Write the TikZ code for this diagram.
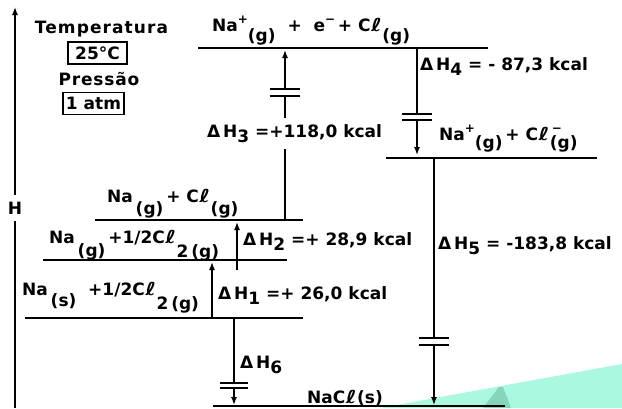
\documentclass[tikz,border=0pt]{standalone}
\usepackage{fontspec}
\setmainfont{DejaVu Sans}
\usetikzlibrary{arrows.meta}
\newcommand{\sbx}[2][0.55em]{\raisebox{-#1}{#2}}
\newcommand{\sdx}[1]{\raisebox{-0.35em}{#1}}
\newcommand{\spx}[1]{\raisebox{0.42em}{\fontsize{12}{12}\selectfont #1}}
\newcommand{\dH}[1]{Δ\,H\sdx{#1}}
\newcommand{\lell}{\kern0.5pt\scalebox{1.35}[1.05]{\itshape ℓ}\kern0.5pt}
\begin{document}
\begin{tikzpicture}[x=1pt,y=-1pt,
  lvl/.style={line width=1.6pt},
  ln/.style={line width=1.4pt},
  arr/.style={line width=1.4pt,-{Latex[length=8pt,width=6pt]}},
  brk/.style={line width=1.3pt},
  lbl/.style={font=\fontsize{17}{20}\selectfont\bfseries, inner sep=0pt},
  boxed/.style={lbl, draw, line width=1.2pt, minimum height=22pt}
]
\useasboundingbox (0,0) rectangle (622,408);
\fill[white] (0,0) rectangle (622,408);

% H axis
\coordinate (hb) at (15,408);
\coordinate (ht) at (15,7);
\draw[arr] (hb) -- (ht);
\node[lbl, fill=white, inner ysep=7pt, inner xsep=1pt] (hl) at (15,208) {H};

% conditions
\node[lbl, anchor=base] (temp) at (101.5,33) {\addfontfeature{LetterSpace=6.5}Temperatura};
\node[boxed, minimum width=59pt] (t25) at (97.5,53) {25°C};
\node[lbl, anchor=base] (pres) at (99,85) {\addfontfeature{LetterSpace=5}Pressão};
\node[boxed, minimum width=61pt] (atm) at (93.5,103.5) {1 atm};

% levels
\coordinate (ta) at (198,48);  \coordinate (tb) at (488,48);
\coordinate (ia) at (386,158); \coordinate (ib) at (597,158);
\coordinate (ga) at (95,220);  \coordinate (gb) at (303,220);
\coordinate (fa) at (43,260);  \coordinate (fb) at (287,260);
\coordinate (sa) at (25,318);  \coordinate (sb) at (303,318);
\coordinate (na) at (213,406); \coordinate (nb) at (505,406);
\draw[lvl] (ta) -- (tb);
\draw[lvl] (ia) -- (ib);
\draw[lvl] (ga) -- (gb);
\draw[lvl] (fa) -- (fb);
\draw[lvl] (sa) -- (sb);
\draw[lvl] (na) -- (nb);

% level labels
\node[lbl, anchor=base west] (ltop) at (212,31) {Na\spx{+}\sbx[10pt]{(g)}\ \ +\ \ e\spx{−}\,+ C\lell\sbx[10pt]{(g)}};
\node[lbl, anchor=base west] (lion) at (439,140) {Na\spx{+}\sbx[8pt]{(g)}\,+ C\lell\rlap{\spx{\,−}}\sbx[8pt]{(g)}};
\node[lbl, anchor=base west] (lgas) at (107,202) {Na\,\sbx[12pt]{(g)}\,+ C\lell\sbx[12pt]{(g)}};
\node[lbl, anchor=base west] (lhalf) at (49,243) {Na\,\sbx[13pt]{(g)}\,+1/2C\lell\sbx[14pt]{2\,(g)}};
\node[lbl, anchor=base west] (lstd) at (22,295) {Na\,\sbx[11pt]{(s)}\ \ +1/2C\lell\sbx[14pt]{2\,(g)}};
\node[lbl, anchor=base west] (lnacl) at (307,403) {NaC\lell(s)};

% Delta H3 (up, with break)
\coordinate (h3s) at (285,220); \coordinate (h3e) at (285,50);
\coordinate (h3a) at (285,96);  \coordinate (h3b) at (285,89);
\draw[ln] (h3s) -- (h3a);
\draw[arr] (h3b) -- (h3e);
\draw[brk] ([xshift=-15pt]h3a) -- ([xshift=15pt]h3a);
\draw[brk] ([xshift=-15pt]h3b) -- ([xshift=15pt]h3b);
\node[lbl, anchor=base west, fill=white, inner ysep=6pt] (l3) at (207,137) {\dH{3} =+118,0 kcal};

% Delta H4 (down, with break)
\coordinate (h4s) at (417,48);  \coordinate (h4e) at (417,155);
\coordinate (h4a) at (417,114); \coordinate (h4b) at (417,120);
\draw[ln] (h4s) -- (h4a);
\draw[arr] (h4b) -- (h4e);
\draw[brk] ([xshift=-15pt]h4a) -- ([xshift=15pt]h4a);
\draw[brk] ([xshift=-15pt]h4b) -- ([xshift=15pt]h4b);
\node[lbl, anchor=base west] (l4) at (420,70) {\dH{4} = - 87,3 kcal};

% Delta H5 (down, with break)
\coordinate (h5s) at (434,158); \coordinate (h5e) at (434,405);
\coordinate (h5a) at (434,338); \coordinate (h5b) at (434,345);
\draw[ln] (h5s) -- (h5a);
\draw[arr] (h5b) -- (h5e);
\draw[brk] ([xshift=-15pt]h5a) -- ([xshift=15pt]h5a);
\draw[brk] ([xshift=-15pt]h5b) -- ([xshift=15pt]h5b);
\node[lbl, anchor=base west] (l5) at (438,249) {\dH{5} =\ -183,8 kcal};

% Delta H6 (down, with break)
\coordinate (h6s) at (234,318); \coordinate (h6e) at (234,405);
\coordinate (h6a) at (234,383); \coordinate (h6b) at (234,388);
\draw[ln] (h6s) -- (h6a);
\draw[arr] (h6b) -- (h6e);
\draw[brk] ([xshift=-14pt]h6a) -- ([xshift=14pt]h6a);
\draw[brk] ([xshift=-14pt]h6b) -- ([xshift=14pt]h6b);
\node[lbl, anchor=base west] (l6) at (240,368) {\dH{6}};

% Delta H1, H2 (up)
\coordinate (h1s) at (212,318); \coordinate (h1e) at (212,262);
\draw[arr] (h1s) -- (h1e);
\node[lbl, anchor=base west] (l1) at (218,299) {\dH{1} =+ 26,0 kcal};
\coordinate (h2s) at (237,270); \coordinate (h2e) at (237,222);
\draw[arr] (h2s) -- (h2e);
\node[lbl, anchor=base west] (l2) at (243,245) {\dH{2} =+ 28,9 kcal};

% watermark
\fill[fill={rgb,255:red,170;green,247;blue,226}, blend mode=multiply] (380,408) -- (622,364) -- (622,408) -- cycle;
\fill[fill={rgb,255:red,200;green,220;blue,210}, blend mode=multiply] (483,408) -- (499,387) -- (503,387) -- (511,408) -- cycle;
\end{tikzpicture}
\end{document}
